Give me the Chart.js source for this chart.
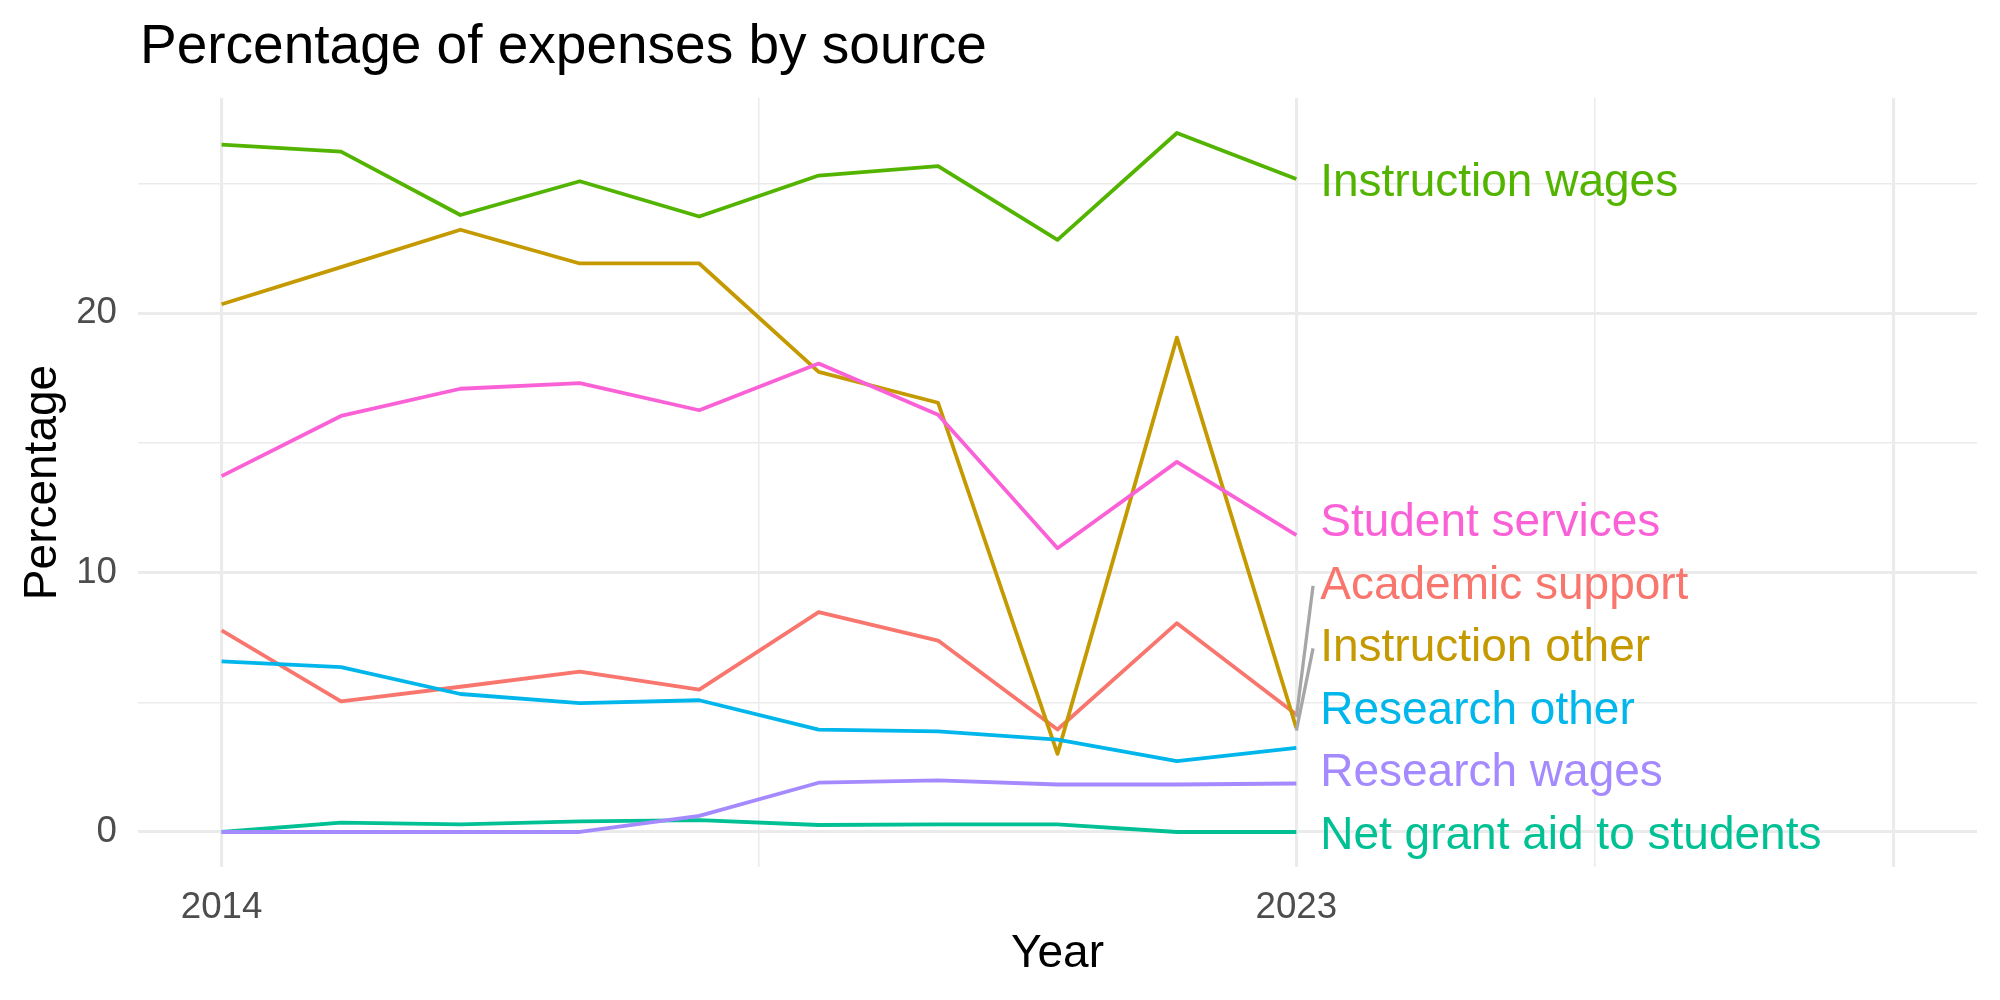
<!DOCTYPE html>
<html>
<head>
<meta charset="utf-8">
<script src="https://cdn.jsdelivr.net/npm/chart.js@4/dist/chart.umd.min.js"></script>
<style>
html,body{margin:0;padding:0;background:#ffffff;}
canvas{display:block;}
</style>
</head>
<body>
<canvas id="c" width="2000" height="1000" style="width:2000px;height:1000px"></canvas>
<script>
// ---------------- data ----------------
const years = [2014, 2015, 2016, 2017, 2018, 2019, 2020, 2021, 2022, 2023];

const academicSupport   = [7.77, 5.04, 5.60, 6.18, 5.49, 8.48, 7.38, 3.95, 8.05, 4.53];
const instructionOther  = [20.35, 21.78, 23.22, 21.92, 21.92, 17.74, 16.55, 3.01, 19.06, 4.01];
const instructionWages  = [26.50, 26.23, 23.79, 25.09, 23.73, 25.31, 25.67, 22.83, 26.95, 25.18];
const netGrantAid       = [0.00, 0.36, 0.29, 0.41, 0.46, 0.27, 0.29, 0.29, 0.00, 0.00];
const researchOther     = [6.58, 6.36, 5.32, 4.97, 5.08, 3.95, 3.88, 3.56, 2.73, 3.24];
const researchWages     = [0.00, 0.00, 0.00, 0.00, 0.62, 1.90, 1.99, 1.83, 1.83, 1.87];
const studentServices   = [13.72, 16.04, 17.09, 17.31, 16.26, 18.06, 16.09, 10.94, 14.27, 11.45];

const seriesNames = ["Academic support", "Instruction other", "Instruction wages",
  "Net grant aid to students", "Research other", "Research wages", "Student services"];
const seriesValues = [academicSupport, instructionOther, instructionWages,
  netGrantAid, researchOther, researchWages, studentServices];
const seriesColors = ["#F8766D", "#C49A00", "#53B400", "#00C094", "#00B6EB", "#A58AFF", "#FB61D7"];

const xTickValues = [2014, 2018.5, 2023, 2025.5, 2028];
const xMajorTicks = [2014, 2023, 2028];
const xTickLabels = {2014: "2014", 2023: "2023"};
const yTickValues = [0, 5, 10, 15, 20, 25];
const yTickLabels = {0: "0", 10: "10", 20: "20"};

const titleText = "Percentage of expenses by source";
const xTitle = "Year";
const yTitle = "Percentage";

// ---------------- chart ----------------
const FONT = "'Liberation Sans', Arial, Helvetica, sans-serif";
Chart.defaults.font.family = FONT;

const datasets = seriesNames.map((name, i) => ({
  label: name,
  data: years.map((yr, j) => ({x: yr, y: seriesValues[i][j]})),
  borderColor: seriesColors[i],
  backgroundColor: seriesColors[i],
  borderWidth: 3.8,
  pointRadius: 0,
  tension: 0,
  fill: false,
  borderJoinStyle: 'round',
  borderCapStyle: 'butt',
  order: seriesNames.length - i
}));

// simple repel of end labels (bottom-up spacing)
function labelPositions() {
  const gap = 2.41;
  const idx = seriesNames.map((_, i) => i);
  const last = i => seriesValues[i][seriesValues[i].length - 1];
  idx.sort((a, b) => last(a) - last(b));
  const pos = {};
  let prev = -Infinity;
  idx.forEach(i => {
    const v = Math.max(last(i), prev + gap);
    pos[i] = v;
    prev = v;
  });
  return pos;
}

const annotPlugin = {
  id: 'annot',
  afterDatasetsDraw(chart) {
    const {ctx} = chart;
    const x = chart.scales.x, y = chart.scales.y;
    const pos = labelPositions();
    const lastYear = years[years.length - 1];
    ctx.save();
    // segments
    ctx.strokeStyle = '#A6A6A6';
    ctx.lineWidth = 3.3;
    ctx.lineCap = 'butt';
    seriesNames.forEach((name, i) => {
      const v = seriesValues[i][seriesValues[i].length - 1];
      if (Math.abs(pos[i] - v) > 2.5) {
        ctx.beginPath();
        ctx.moveTo(x.getPixelForValue(lastYear), y.getPixelForValue(v - 0.1));
        ctx.lineTo(x.getPixelForValue(lastYear + 0.14), y.getPixelForValue(pos[i] - 0.15));
        ctx.stroke();
      }
    });
    // labels
    ctx.font = "46px " + FONT;
    ctx.textAlign = 'left';
    ctx.textBaseline = 'middle';
    seriesNames.forEach((name, i) => {
      ctx.fillStyle = seriesColors[i];
      ctx.fillText(name, x.getPixelForValue(lastYear + 0.2), y.getPixelForValue(pos[i]) + 4);
    });
    ctx.restore();
  },
  afterDraw(chart) {
    const {ctx} = chart;
    ctx.save();
    ctx.font = "55px " + FONT;
    ctx.fillStyle = '#000000';
    ctx.textAlign = 'left';
    ctx.textBaseline = 'alphabetic';
    ctx.fillText(titleText, 140, 63);
    ctx.restore();
  }
};

new Chart(document.getElementById('c'), {
  type: 'line',
  data: {datasets},
  plugins: [annotPlugin],
  options: {
    responsive: false,
    animation: false,
    devicePixelRatio: 1,
    layout: {padding: {top: 98, right: 23, left: 0, bottom: 0}},
    plugins: {
      legend: {display: false},
      tooltip: {enabled: false},
      title: {display: false}
    },
    scales: {
      x: {
        type: 'linear',
        min: 2013.3,
        max: 2028.7,
        afterBuildTicks: s => { s.ticks = xTickValues.map(v => ({value: v})); },
        afterFit: s => { s.height = 133; },
        ticks: {
          callback: v => xTickLabels[v] || '',
          color: '#4D4D4D',
          font: {size: 36.7},
          padding: 19,
          maxRotation: 0,
          autoSkip: false
        },
        grid: {
          color: '#EBEBEB',
          lineWidth: c => (c.tick && xMajorTicks.includes(c.tick.value)) ? 3.1 : 1.55,
          drawTicks: false
        },
        border: {display: false},
        title: {display: true, text: xTitle, color: '#000000', font: {size: 46}, padding: {top: 0, bottom: 18}}
      },
      y: {
        type: 'linear',
        min: -1.35,
        max: 28.3,
        afterBuildTicks: s => { s.ticks = yTickValues.map(v => ({value: v})); },
        afterFit: s => { s.width = 138; },
        ticks: {
          callback: v => yTickLabels[v] || '',
          color: '#4D4D4D',
          font: {size: 36.7},
          padding: 21,
          autoSkip: false
        },
        grid: {
          color: '#EBEBEB',
          lineWidth: c => (c.tick && c.tick.value % 10 === 0) ? 3.1 : 1.55,
          drawTicks: false
        },
        border: {display: false},
        title: {display: true, text: yTitle, color: '#000000', font: {size: 46}, padding: {top: 16, bottom: 0}}
      }
    }
  }
});
</script>
</body>
</html>
